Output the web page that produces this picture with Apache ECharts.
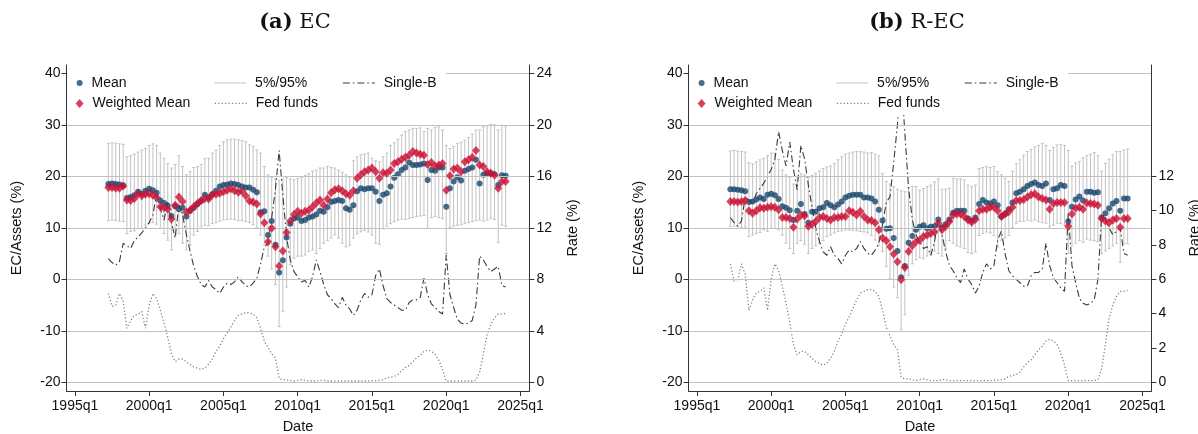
<!DOCTYPE html>
<html>
<head>
<meta charset="utf-8">
<script src="https://cdn.jsdelivr.net/npm/echarts@6/dist/echarts.min.js"></script>
<style>
  html, body { margin: 0; padding: 0; background: #fff; }
  #chart { width: 1198px; height: 434px; }
</style>
</head>
<body>
<div id="chart"></div>
<script>
// Quarterly observations, 1997q2 .. 2024q1
const startYear = 1997, startQuarter = 2;

// Axis tick labels
const dateTicks = ['1995q1', '2000q1', '2005q1', '2010q1', '2015q1', '2020q1', '2025q1'];
const ecTicks = [-20, -10, 0, 10, 20, 30, 40];
const rateTicksEC = [0, 4, 8, 12, 16, 20, 24];
const rateTicksREC = [0, 2, 4, 6, 8, 10, 12];

// (a) EC / assets, %
const ecMean = [
  18.5, 18.6, 18.5, 18.4, 18.2, 15.8, 16.0, 16.3, 17.0, 16.6,
  17.2, 17.6, 17.3, 16.8, 15.3, 14.8, 14.3, 12.3, 14.2, 13.6,
  13.9, 12.2, 13.3, 13.9, 14.6, 15.2, 16.4, 15.9, 16.5, 17.2,
  18.0, 18.3, 18.4, 18.6, 18.5, 18.3, 18.0, 17.8, 17.8, 17.4,
  16.9, 13.0, 13.2, 8.6, 11.3, 6.7, 1.3, 3.7, 8.1, 10.8,
  11.8, 12.0, 11.3, 11.5, 12.0, 12.2, 12.6, 13.3, 13.1, 14.0,
  15.0, 15.2, 15.4, 15.2, 13.8, 13.5, 14.4, 17.1, 17.7, 17.5,
  17.7, 17.7, 17.0, 15.2, 16.4, 16.7, 18.0, 19.7, 20.4, 21.2,
  21.7, 22.7, 22.2, 22.2, 22.3, 22.5, 19.3, 21.2, 21.1, 21.7,
  21.7, 14.1, 17.7, 19.0, 19.8, 19.2, 21.1, 21.4, 21.7, 23.2,
  18.6, 20.3, 20.6, 20.6, 20.4, 18.3, 20.2, 20.1
];
const ecWMean = [
  17.8, 17.8, 17.7, 17.7, 18.1, 15.4, 15.3, 15.7, 16.6, 16.2,
  16.5, 16.6, 16.3, 15.9, 14.1, 13.9, 13.6, 11.7, 14.4, 16.0,
  15.1, 13.0, 13.4, 14.1, 14.7, 15.3, 15.7, 15.6, 16.4, 16.5,
  16.7, 17.0, 17.3, 17.6, 17.2, 16.9, 17.1, 16.2, 15.2, 15.0,
  14.6, 12.7, 11.0, 7.3, 9.9, 6.3, 2.6, 5.5, 9.1, 11.3,
  12.6, 13.2, 12.8, 13.2, 13.4, 14.1, 14.8, 15.4, 14.4, 15.6,
  16.8, 17.4, 17.6, 17.2, 16.6, 16.3, 17.2, 19.6, 20.3, 20.9,
  21.2, 21.6, 20.9, 19.6, 20.7, 20.6, 21.2, 22.5, 22.8, 23.3,
  23.7, 24.1, 24.8, 24.5, 24.3, 24.1, 22.3, 22.7, 22.0, 22.2,
  22.5, 17.3, 20.1, 21.4, 21.6, 20.9, 22.8, 23.2, 23.7, 25.0,
  22.2, 21.9, 20.9, 20.6, 20.2, 17.7, 19.0, 19.0
];
const ecP5 = [
  11.4, 11.5, 11.4, 11.3, 11.2, 8.9, 9.3, 9.4, 9.8, 9.9,
  10.5, 10.9, 11.0, 10.7, 9.9, 8.9, 7.6, 5.7, 8.6, 8.9,
  7.0, 5.7, 6.7, 8.6, 9.3, 10.2, 10.5, 10.4, 10.8, 11.0,
  11.3, 11.5, 11.6, 11.7, 11.6, 11.4, 11.4, 11.2, 11.0, 10.6,
  10.0, 8.6, 6.7, 4.5, 2.0, -1.0, -9.2, -6.2, -1.5, 2.8,
  4.1, 4.5, 4.5, 4.7, 5.4, 5.7, 5.0, 6.0, 7.0, 7.5,
  8.0, 8.6, 8.0, 7.0, 6.3, 6.6, 8.0, 8.8, 9.2, 9.5,
  9.2, 8.6, 7.0, 6.8, 9.8, 10.3, 10.8, 11.2, 11.5, 11.7,
  11.6, 11.8, 12.0, 12.2, 12.3, 12.4, 9.9, 12.0, 12.2, 12.0,
  11.8, 5.0, 10.0, 10.3, 10.5, 10.6, 10.8, 11.0, 11.2, 11.4,
  11.5, 11.3, 11.5, 11.8, 11.6, 7.1, 10.5, 10.3
];
const ecP95 = [
  26.4, 26.5, 26.4, 26.3, 26.2, 23.8, 24.0, 24.3, 24.7, 25.1,
  25.4, 26.0, 26.3, 26.0, 24.5, 23.5, 22.5, 21.6, 22.3, 24.0,
  21.9, 20.3, 20.9, 21.7, 21.9, 22.3, 23.4, 23.5, 24.5, 25.1,
  26.0, 26.7, 27.1, 27.2, 27.2, 27.1, 26.9, 26.7, 26.1, 25.8,
  25.1, 24.5, 21.9, 20.3, 19.8, 19.5, 19.2, 19.5, 19.8, 19.5,
  19.3, 19.6, 19.8, 20.2, 20.5, 21.0, 21.2, 21.6, 21.6, 21.9,
  21.7, 21.6, 21.2, 20.8, 20.3, 19.8, 23.0, 23.8, 24.2, 24.3,
  24.5, 23.5, 23.0, 22.8, 23.8, 24.5, 26.0, 26.5, 27.2, 28.0,
  28.7, 29.0, 29.3, 29.3, 29.4, 28.7, 29.3, 29.0, 29.5, 29.6,
  29.0, 26.0, 25.4, 25.8, 26.4, 26.6, 27.0, 27.5, 28.2, 29.0,
  29.0, 29.6, 29.8, 30.1, 30.0, 29.0, 29.9, 29.8
];

// (b) R-EC / assets, %
const recMean = [
  17.5, 17.5, 17.4, 17.3, 17.1, 15.0, 15.1, 15.5, 15.9, 15.6,
  16.4, 16.6, 16.3, 15.6, 14.2, 13.9, 13.4, 11.5, 13.3, 14.6,
  12.7, 11.0, 13.1, 13.1, 13.8, 14.0, 14.8, 14.4, 14.0, 14.5,
  15.1, 15.9, 16.2, 16.4, 16.4, 16.4, 15.9, 15.9, 15.7, 15.1,
  13.5, 11.4, 9.8, 9.9, 8.0, 5.5, 0.4, 2.6, 7.1, 8.4,
  9.6, 10.2, 10.5, 9.9, 10.2, 10.3, 11.6, 10.1, 10.7, 11.6,
  12.9, 13.3, 13.3, 13.3, 11.8, 11.4, 12.0, 14.6, 15.4, 14.9,
  14.7, 15.1, 14.4, 12.2, 12.7, 13.6, 14.9, 16.7, 17.0, 17.5,
  18.1, 18.5, 18.8, 18.3, 18.1, 18.6, 15.4, 17.5, 17.7, 18.3,
  18.1, 11.2, 14.1, 15.5, 16.1, 15.3, 17.0, 17.0, 16.8, 16.9,
  12.0, 12.8, 13.8, 14.7, 15.2, 13.3, 15.7, 15.7
];
const recWMean = [
  15.1, 15.1, 15.0, 15.1, 15.3, 13.3, 12.8, 13.3, 13.9, 13.8,
  14.0, 14.1, 14.0, 13.5, 12.0, 12.0, 11.8, 10.1, 11.7, 12.5,
  12.3, 10.3, 10.7, 11.2, 12.0, 12.2, 11.8, 11.5, 12.0, 12.0,
  12.2, 12.2, 13.3, 13.0, 12.5, 13.2, 12.2, 11.5, 11.4, 11.0,
  9.6, 8.0, 7.5, 6.3, 4.9, 3.4, -0.1, 2.3, 5.4, 6.5,
  7.3, 7.6, 8.3, 8.6, 8.9, 9.2, 10.9, 9.6, 10.3, 11.2,
  12.5, 12.7, 12.7, 12.2, 11.5, 11.1, 11.6, 13.3, 13.6, 13.6,
  14.0, 14.0, 13.3, 12.2, 12.7, 13.1, 14.0, 15.3, 15.3, 15.5,
  16.0, 16.4, 16.6, 16.0, 15.7, 15.4, 13.6, 14.7, 14.9, 14.9,
  14.9, 10.3, 12.7, 13.8, 14.0, 13.6, 14.8, 14.7, 14.6, 14.4,
  11.8, 11.3, 11.0, 11.5, 11.8, 10.1, 11.8, 11.8
];
const recP5 = [
  10.2, 10.3, 10.2, 10.1, 10.1, 8.3, 8.6, 8.9, 9.1, 9.6,
  9.3, 9.9, 9.9, 9.6, 8.6, 7.0, 6.0, 5.0, 7.0, 7.5,
  6.8, 5.0, 6.0, 6.5, 7.0, 7.5, 8.3, 8.6, 9.0, 9.3,
  9.4, 9.6, 9.6, 9.5, 9.4, 9.3, 9.2, 9.0, 8.5, 7.6,
  6.5, 5.4, 2.5, 0.1, -1.5, -3.6, -9.8, -6.9, 0.7, 3.0,
  3.8, 4.2, 4.0, 4.5, 4.8, 5.5, 5.0, 4.5, 6.0, 7.5,
  7.0, 6.5, 6.3, 6.0, 5.2, 5.0, 5.3, 8.5, 8.9, 9.2,
  9.0, 8.5, 6.3, 7.6, 8.0, 8.5, 10.0, 10.9, 11.2, 11.3,
  11.5, 11.3, 11.5, 11.2, 11.0, 10.9, 10.2, 10.5, 10.9, 10.8,
  10.5, 5.0, 6.5, 7.0, 7.5, 7.2, 7.8, 7.6, 7.5, 7.3,
  5.0, 5.5, 6.0, 6.5, 7.0, 3.3, 6.9, 6.9
];
const recP95 = [
  24.9, 25.0, 24.9, 24.8, 24.7, 22.6, 22.4, 22.8, 23.2, 23.5,
  24.0, 24.5, 24.5, 23.3, 21.2, 20.3, 19.8, 18.5, 20.0, 20.5,
  20.3, 19.8, 20.2, 20.6, 21.0, 21.5, 21.8, 22.0, 22.5, 23.2,
  23.8, 24.3, 24.5, 24.7, 24.8, 24.8, 24.7, 24.5, 24.6, 24.3,
  24.0, 20.5, 19.0, 18.5, 18.0, 17.5, 17.2, 17.0, 17.8, 18.0,
  18.0, 17.3, 17.6, 18.0, 18.3, 18.9, 19.5, 17.5, 17.5, 17.7,
  19.6, 19.5, 19.5, 19.3, 18.3, 18.0, 18.3, 21.5, 21.7, 21.9,
  21.7, 21.9, 20.9, 20.3, 19.6, 19.0, 21.0, 22.5, 23.2, 24.1,
  24.8, 25.2, 25.7, 26.0, 26.4, 26.0, 25.0, 25.6, 26.1, 26.2,
  26.0, 25.0, 22.0, 22.6, 22.9, 23.6, 24.0, 24.3, 24.6, 24.0,
  21.0, 22.5, 23.3, 24.2, 24.8, 24.8, 25.1, 25.3
];

// Rates, % (right axis)
const singleB = [
  9.6, 9.3, 9.1, 9.4, 10.8, 10.6, 10.4, 11.0, 11.3, 11.6,
  12.0, 12.4, 13.0, 14.6, 13.5, 12.6, 14.0, 12.4, 11.2, 13.8,
  13.0, 11.5, 10.2, 9.0, 8.2, 7.6, 7.4, 7.9, 7.4, 7.2,
  6.9, 7.4, 7.7, 7.6, 7.8, 8.2, 7.8, 7.5, 7.4, 7.7,
  8.1, 9.2, 10.5, 10.8, 12.8, 15.0, 18.0, 14.5, 11.3, 9.5,
  8.6, 8.2, 7.8, 7.9, 7.4, 8.2, 9.5, 8.6, 7.6, 6.8,
  6.5, 6.1, 5.8, 6.6, 6.0, 5.7, 5.2, 5.6, 6.4, 6.9,
  6.6, 6.8, 8.3, 8.8, 7.5, 6.5, 6.2, 6.0, 5.8, 5.6,
  5.6, 6.2, 6.4, 6.4, 6.6, 8.1, 6.8, 6.1, 5.8, 5.5,
  5.3, 9.9, 6.8, 5.8, 4.9, 4.6, 4.5, 4.6, 4.8, 6.0,
  9.8, 9.5, 9.0, 8.6, 8.8, 9.0, 7.5, 7.4
];
const fedFunds = [
  6.9, 5.9, 6.0, 6.9, 6.3, 4.2, 4.8, 5.2, 5.3, 5.5,
  4.2, 6.0, 6.9, 6.5, 5.6, 4.6, 3.5, 2.2, 1.6, 1.8,
  1.8, 1.6, 1.4, 1.2, 1.1, 1.0, 1.1, 1.4, 1.8, 2.4,
  2.8, 3.4, 3.8, 4.3, 4.8, 5.2, 5.3, 5.4, 5.4, 5.3,
  5.0, 4.2, 3.2, 2.7, 2.2, 1.9, 0.3, 0.2, 0.2, 0.15,
  0.1, 0.15, 0.2, 0.15, 0.1, 0.1, 0.1, 0.15, 0.15, 0.1,
  0.1, 0.1, 0.1, 0.1, 0.1, 0.1, 0.1, 0.1, 0.1, 0.1,
  0.1, 0.12, 0.13, 0.15, 0.2, 0.35, 0.4, 0.45, 0.6, 0.9,
  1.15, 1.3, 1.6, 1.9, 2.1, 2.4, 2.5, 2.4, 2.2, 1.7,
  1.0, 0.1, 0.1, 0.1, 0.1, 0.1, 0.1, 0.1, 0.1, 0.15,
  0.8, 2.2, 3.7, 4.5, 5.0, 5.3, 5.3, 5.35
];

// ---- helpers ----
function quarterIndex(label) {            // quarters since 1995q1
  const [y, q] = label.split('q').map(Number);
  return (y - 1995) * 4 + (q - 1);
}
const x0 = quarterIndex(startYear + 'q' + startQuarter);
const xs = ecMean.map((_, i) => x0 + i);
const pts = arr => arr.map((v, i) => [xs[i], v]);
const band = (lo, hi) => lo.map((v, i) => [xs[i], v, hi[i]]);
const dateTickPos = dateTicks.map(quarterIndex);
const dateLabel = v => dateTicks[dateTickPos.indexOf(Math.round(v))] || '';

// ---- layout ----
const gridTop = 65, gridHeight = 326, gridWidth = 462.9;
const xMin = -2.27, xMax = 122.4;
const yMin = -21.69, yMax = 41.61;

const font = 'Liberation Sans';
const ink = '#111';
const axisInk = '#333';
const colMean = '#1a476f';
const colWMean = '#cc1236';
const colBand = '#c2c2c2';
const colGrid = '#c2c2c2';
const singleBStyle = { color: '#3a3a3a', width: 1.1, type: [7, 3, 1.5, 3] };
const fedStyle = { color: '#808080', width: 1.3, type: [1.2, 2.2] };

const panels = [
  { tag: '(a)', name: 'EC', left: 66.5, mean: ecMean, wmean: ecWMean, p5: ecP5, p95: ecP95,
    rateTicks: rateTicksEC, rateAlign: [24, 40] },
  { tag: '(b)', name: 'R-EC', left: 688.5, mean: recMean, wmean: recWMean, p5: recP5, p95: recP95,
    rateTicks: rateTicksREC, rateAlign: [12, 20] }
];

const option = {
  animation: false,
  backgroundColor: '#fff',
  title: [], grid: [], xAxis: [], yAxis: [], series: [], legend: [], graphic: []
};

const labelStyle = { color: ink, fontFamily: font, fontSize: 14 };
const nameStyle = { color: ink, fontFamily: font, fontSize: 14.5 };

// key rows (text centre lines)
const row1 = 82.3, row2 = 102.7, keyLift = 6.3;

panels.forEach((p, k) => {
  const dx = p.left - panels[0].left;
  const kRate = p.rateAlign[0] / (p.rateAlign[1] + 20);   // rate per EC-axis unit, with rate 0 at -20

  option.title.push({
    text: '{b|' + p.tag + '} ' + p.name,
    left: p.left + gridWidth / 2 - 3, top: 12, padding: 0, textAlign: 'center',
    textStyle: {
      fontFamily: 'DejaVu Serif', fontSize: 21, fontWeight: 'normal', color: ink,
      rich: { b: { fontFamily: 'DejaVu Serif', fontSize: 21, fontWeight: 'bold', color: ink } }
    }
  });

  option.grid.push({ left: p.left, top: gridTop, width: gridWidth, height: gridHeight,
    containLabel: false, outerBoundsMode: 'none' });

  option.xAxis.push({
    type: 'value', gridIndex: k, min: xMin, max: xMax, z: 8,
    axisLine: { show: true, onZero: false, lineStyle: { color: axisInk, width: 1 } },
    axisTick: { show: true, length: 5, customValues: dateTickPos, lineStyle: { color: axisInk } },
    axisLabel: Object.assign({ customValues: dateTickPos, formatter: dateLabel, margin: 8 }, labelStyle),
    splitLine: { show: false },
    name: 'Date', nameLocation: 'middle', nameGap: 28, nameTextStyle: nameStyle
  });

  option.yAxis.push({
    type: 'value', gridIndex: k, position: 'left', min: yMin, max: yMax, z: 8,
    axisLine: { show: true, onZero: false, lineStyle: { color: axisInk, width: 1 } },
    axisTick: { show: true, length: 5, customValues: ecTicks, lineStyle: { color: axisInk } },
    axisLabel: Object.assign({ customValues: ecTicks, margin: 6 }, labelStyle),
    splitLine: { show: false },
    name: 'EC/Assets (%)', nameLocation: 'middle', nameGap: 42, nameTextStyle: nameStyle
  });

  option.yAxis.push({
    type: 'value', gridIndex: k, position: 'right',
    min: (yMin + 20) * kRate, max: (yMax + 20) * kRate, z: 8,
    axisLine: { show: true, onZero: false, lineStyle: { color: axisInk, width: 1 } },
    axisTick: { show: true, length: 5, customValues: p.rateTicks, lineStyle: { color: axisInk } },
    axisLabel: Object.assign({ customValues: p.rateTicks, margin: 7 }, labelStyle),
    splitLine: { show: false },
    name: 'Rate (%)', nameLocation: 'middle', nameGap: 36, nameTextStyle: nameStyle
  });

  const yl = 2 * k, yr = 2 * k + 1;

  // horizontal grid lines at the EC ticks
  option.series.push({
    type: 'line', name: 'gridlines', xAxisIndex: k, yAxisIndex: yl, data: [], z: 1, silent: true,
    markLine: {
      silent: true, symbol: ['none', 'none'], label: { show: false }, animation: false,
      lineStyle: { color: colGrid, width: 1, type: 'solid' },
      emphasis: { disabled: true },
      data: ecTicks.map(v => ({ yAxis: v }))
    }
  });

  // 5th / 95th percentile range caps
  option.series.push({
    type: 'custom', name: '5%/95%', xAxisIndex: k, yAxisIndex: yl, z: 2, silent: true,
    itemStyle: { color: colBand },
    data: band(p.p5, p.p95),
    encode: { x: 0, y: [1, 2] },
    renderItem: (params, api) => {
      const x = api.value(0);
      const lo = api.coord([x, api.value(1)]);
      const hi = api.coord([x, api.value(2)]);
      const c = 1.5;
      const st = { stroke: colBand, lineWidth: 1 };
      return {
        type: 'group',
        children: [
          { type: 'line', shape: { x1: lo[0], y1: lo[1], x2: hi[0], y2: hi[1] }, style: st },
          { type: 'line', shape: { x1: lo[0] - c, y1: lo[1], x2: lo[0] + c, y2: lo[1] }, style: st },
          { type: 'line', shape: { x1: hi[0] - c, y1: hi[1], x2: hi[0] + c, y2: hi[1] }, style: st }
        ]
      };
    }
  });

  option.series.push({
    type: 'line', name: 'Single-B', xAxisIndex: k, yAxisIndex: yr, data: pts(singleB),
    symbol: 'none', z: 3, silent: true, lineStyle: singleBStyle
  });
  option.series.push({
    type: 'line', name: 'Fed funds', xAxisIndex: k, yAxisIndex: yr, data: pts(fedFunds),
    symbol: 'none', z: 3, silent: true, lineStyle: fedStyle
  });
  option.series.push({
    type: 'scatter', name: 'Mean', xAxisIndex: k, yAxisIndex: yl, data: pts(p.mean),
    symbol: 'circle', symbolSize: 6, z: 4, silent: true, itemStyle: { color: colMean }
  });
  option.series.push({
    type: 'scatter', name: 'Weighted Mean', xAxisIndex: k, yAxisIndex: yl, data: pts(p.wmean),
    symbol: 'diamond', symbolSize: [8, 9], z: 5, silent: true, itemStyle: { color: colWMean }
  });

  // white key area at the top of the plot
  option.graphic.push({
    type: 'rect', silent: true, z: 6,
    shape: { x: p.left + 1, y: gridTop, width: 446 - 67.5, height: 50 },
    style: { fill: '#fff' }
  });

  const lg = {
    orient: 'horizontal', padding: 0, z: 7, selectedMode: false,
    formatter: ' {name}',
    textStyle: { fontFamily: font, fontSize: 14, color: ink }
  };
  option.legend.push(Object.assign({}, lg, {
    data: [{ name: 'Mean', icon: 'circle' }], left: 76.6 + dx, top: row1 - keyLift, itemWidth: 6, itemHeight: 6
  }));
  option.legend.push(Object.assign({}, lg, {
    data: [{ name: 'Weighted Mean', icon: 'diamond' }], left: 75.6 + dx, top: row2 - keyLift, itemWidth: 8, itemHeight: 9
  }));
  option.legend.push(Object.assign({}, lg, {
    data: [{ name: '5%/95%', icon: 'rect' }], left: 214.2 + dx, top: row1 - keyLift, itemWidth: 32, itemHeight: 1.2,
    itemStyle: { color: colBand }
  }));
  option.legend.push(Object.assign({}, lg, {
    data: ['Fed funds'], left: 214.2 + dx, top: row2 - keyLift, itemWidth: 32, itemHeight: 10,
    itemStyle: { opacity: 0 }, lineStyle: fedStyle
  }));
  option.legend.push(Object.assign({}, lg, {
    data: ['Single-B'], left: 342.3 + dx, top: row1 - keyLift, itemWidth: 32, itemHeight: 10,
    itemStyle: { opacity: 0 }, lineStyle: singleBStyle
  }));
});

const chart = echarts.init(document.getElementById('chart'), null, { renderer: 'canvas' });
chart.setOption(option);
</script>
</body>
</html>
